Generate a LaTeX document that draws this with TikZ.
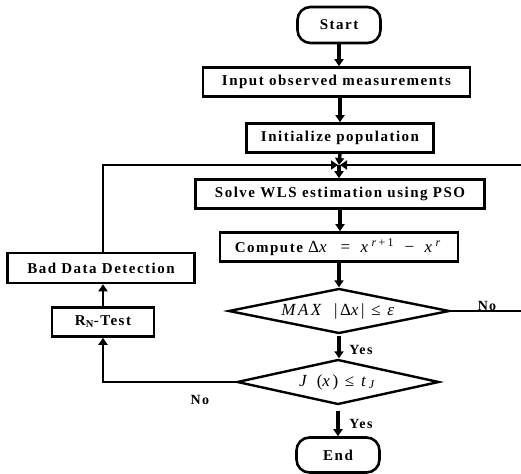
\documentclass[tikz,border=0pt]{standalone}
\usepackage{fontspec}
\usetikzlibrary{shapes.geometric,arrows.meta}
\newfontfamily\flowfont[LetterSpace=10]{Liberation Serif}
\newfontfamily\eqfont[LetterSpace=15]{Liberation Serif}
\newfontfamily\eqwide[LetterSpace=20]{Liberation Serif}

\tikzset{
  block/.style={draw,line width=2.6pt,rectangle,inner sep=0pt,minimum height=29pt},
  term/.style={draw,line width=2.6pt,rectangle,rounded corners=13pt,inner sep=0pt,minimum width=83pt,minimum height=36pt},
  test/.style={draw,line width=2.4pt,diamond,aspect=4.9,inner sep=0pt,minimum width=221pt,minimum height=45pt},
  flow/.style={line width=3.4pt,-{Triangle[length=7pt,width=9pt]}},
  back/.style={line width=2pt},
  backarr/.style={line width=2pt,-{Triangle[length=7pt,width=9pt]}},
  lbl/.style={font=\flowfont\bfseries\fontsize{14}{16}\selectfont}
}

\begin{document}
\begin{tikzpicture}[x=1pt,y=-1pt,font=\flowfont\bfseries\fontsize{15}{17}\selectfont]
\useasboundingbox (0,0) rectangle (521,473);
% main column
\node[term] (start) at (339,25) {Start};
\node[block,minimum width=267pt] (input) at (336.5,82) {Input observed measurements};
\node[block,minimum width=187pt] (init) at (340,138) {Initialize population};
\coordinate (join) at (339,165);
\node[block,minimum width=289pt] (solve) at (340,194) {Solve WLS estimation using PSO};
\node[block,minimum width=238pt] (comp) at (339,247) {Compute {\eqwide\mdseries\fontsize{17}{19}\selectfont Δ\textit{x} \,=\, \textit{x}\textsuperscript{\textit{r}+1} \,−\, \textit{x}\textsuperscript{\textit{r}}}};
\node[test] (dmax) at (339,311) {\eqfont\mdseries\fontsize{17}{19}\selectfont \textit{MAX} \,|Δ\textit{x}| ≤ \textit{ε}};
\node[test,minimum width=202pt] (dj) at (338,382) {\eqfont\mdseries\fontsize{17}{19}\selectfont \textit{J} (\textit{x}) ≤ \textit{t}\textsubscript{\textit{J}}};
\node[term,minimum height=35pt] (end) at (338,455) {End};
% left branch
\node[block,minimum width=187pt,minimum height=30pt] (bad) at (101,268) {Bad Data Detection};
\node[block,minimum width=102pt] (rn) at (103,322) {R\textsubscript{N}-Test};
\coordinate (exitR) at (521,311);
\coordinate (backR) at (521,165);

\draw[flow] (start.south) -- (start.south |- input.north);
\draw[flow] (init.south |- input.south) -- (init.north);
\draw[flow] (init.south) -- (join);
\draw[flow] (join) -- (join |- solve.north);
\draw[flow] (solve.south) -- (solve.south |- comp.north);
\draw[flow] (comp.south) -- (dmax.north);
\draw[flow] ([yshift=-1pt]dmax.south) -- (dmax.south |- dj.north);
\draw[flow] ([yshift=-5pt]dj.south) -- (dj.south |- end.north);

\draw[back] (dmax.east) -- (exitR);
\draw[backarr] (backR) -- ([xshift=1pt]join);
\draw[backarr] (bad.north -| rn.north) |- ([xshift=-1pt]join);
\draw[flow,line width=2.6pt] (rn.north) -- (rn.north |- bad.south);
\draw[backarr,line width=2.6pt] (dj.west) -| (rn.south);

\node[lbl] (noA) at (487,306) {No};
\node[lbl] (yesA) at (361,350) {Yes};
\node[lbl] (noB) at (200,400) {No};
\node[lbl] (yesB) at (361,424) {Yes};
\end{tikzpicture}
\end{document}
